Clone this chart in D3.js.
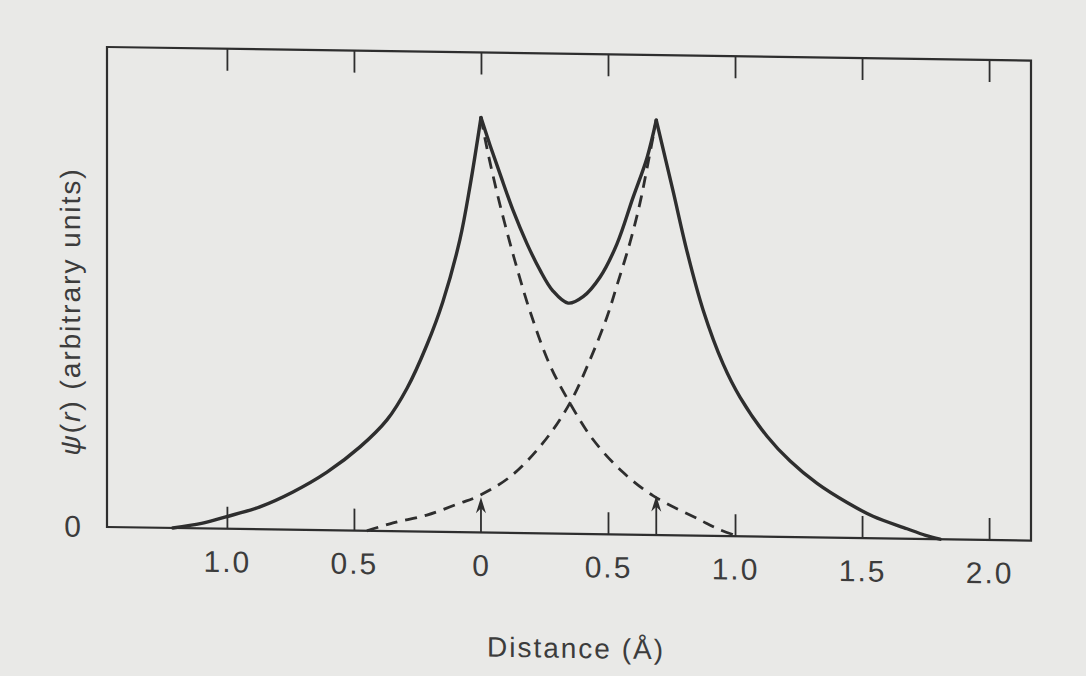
<!DOCTYPE html>
<html>
<head>
<meta charset="utf-8">
<script src="https://cdn.jsdelivr.net/npm/d3@7"></script>
<style>
  body { margin: 0; background: #e9e9e7; }
  svg { display: block; }
</style>
</head>
<body>
<div id="chart"></div>
<script>
// Nuclei positions (Å) and how high the arrows reach
const nuclei = [0, 0.69];
const arrowTops = [0.085, 0.095];

// Tick positions (distance measured from the left nucleus)
const xTicks = [-1.0, -0.5, 0, 0.5, 1.0, 1.5, 2.0];
const yTicks = [0];

// Solid curve, read in three pieces split at the two cusps: [r, psi]
const solidLeft = [
    [-1.213, 0.0], [-1.10, 0.012], [-1.008, 0.028], [-0.870, 0.054], [-0.740, 0.091],
    [-0.606, 0.140], [-0.476, 0.202], [-0.370, 0.268], [-0.291, 0.345], [-0.213, 0.450],
    [-0.150, 0.555], [-0.083, 0.705], [-0.043, 0.835], [0, 1.0]
];
const solidMid = [
    [0, 1.0], [0.035, 0.935], [0.075, 0.865], [0.126, 0.778], [0.181, 0.698],
    [0.232, 0.635], [0.283, 0.585], [0.343, 0.556], [0.402, 0.572], [0.469, 0.620],
    [0.535, 0.700], [0.598, 0.812], [0.654, 0.910], [0.69, 1.0]
];
const solidRight = [
    [0.69, 1.0], [0.756, 0.830], [0.811, 0.685], [0.874, 0.545], [0.953, 0.415],
    [1.02, 0.335], [1.126, 0.242], [1.217, 0.183], [1.323, 0.130], [1.441, 0.085],
    [1.543, 0.053], [1.677, 0.024], [1.75, 0.009], [1.807, 0.0]
];

// Dashed curves: each atom's own function
const dashA = [
    [0, 1.0], [0.024, 0.925], [0.063, 0.820], [0.094, 0.745], [0.134, 0.655],
    [0.193, 0.535], [0.272, 0.405], [0.350, 0.315], [0.441, 0.228], [0.559, 0.150],
    [0.677, 0.095], [0.862, 0.038], [0.94, 0.015], [1.012, 0.0]
];
const dashB = [
    [-0.449, 0.0], [-0.346, 0.020], [-0.213, 0.040], [-0.083, 0.070], [-0.016, 0.086],
    [0.114, 0.135], [0.244, 0.218], [0.350, 0.315], [0.429, 0.420], [0.496, 0.524],
    [0.535, 0.600], [0.587, 0.705], [0.626, 0.800], [0.654, 0.885], [0.69, 1.0]
];

const width = 1086;
const height = 676;
const margin = { top: 47, right: 55, bottom: 149, left: 107 };
const ink = "#2e2e2e";
const textInk = "#3c3c3c";
const font = "'Liberation Sans', Arial, sans-serif";

const svg = d3.select("#chart")
    .append("svg")
    .attr("width", width)
    .attr("height", height);

svg.append("rect")
    .attr("width", width)
    .attr("height", height)
    .attr("fill", "#e9e9e7");

// the printed page is slightly tilted in the photo
const g = svg.append("g")
    .attr("transform", `translate(${margin.left},${height - margin.bottom}) skewY(0.84) translate(${-margin.left},${-(height - margin.bottom)})`);

const x = d3.scaleLinear()
    .domain([-1.472, 2.165])
    .range([margin.left, width - margin.right]);

const y = d3.scaleLinear()
    .domain([0, 1.157])
    .range([height - margin.bottom, margin.top]);

// Frame
g.append("rect")
    .attr("x", x.range()[0])
    .attr("y", y.range()[1])
    .attr("width", x.range()[1] - x.range()[0])
    .attr("height", y.range()[0] - y.range()[1])
    .attr("fill", "none")
    .attr("stroke", ink)
    .attr("stroke-width", 2.2);

// Bottom axis: ticks point inward, labels are distances from each nucleus
const bottomAxis = g.append("g")
    .attr("transform", `translate(0,${y(0)})`)
    .call(d3.axisBottom(x)
        .tickValues(xTicks)
        .tickFormat(d => d === 0 ? "0" : d3.format(".1f")(Math.abs(d)))
        .tickSizeInner(-22)
        .tickSizeOuter(0)
        .tickPadding(22));
bottomAxis.select(".domain").remove();
bottomAxis.selectAll(".tick").filter(d => d === 0).select("line").remove();

// Top axis: ticks only
const topAxis = g.append("g")
    .attr("transform", `translate(0,${y.range()[1]})`)
    .call(d3.axisTop(x)
        .tickValues(xTicks)
        .tickFormat("")
        .tickSizeInner(-22)
        .tickSizeOuter(0));
topAxis.select(".domain").remove();

// Left axis: just the zero label
const leftAxis = g.append("g")
    .attr("transform", `translate(${x.range()[0]},0)`)
    .call(d3.axisLeft(y).tickValues(yTicks).tickFormat(d3.format("d")).tickSize(0).tickPadding(24));
leftAxis.select(".domain").remove();

g.selectAll(".tick line").attr("stroke", ink).attr("stroke-width", 1.8);
g.selectAll(".tick text")
    .attr("fill", textInk)
    .style("font-family", font)
    .style("font-size", "30px")
    .style("letter-spacing", "2px");

// Curves
const line = d3.line()
    .x(d => x(d[0]))
    .y(d => y(d[1]))
    .curve(d3.curveCatmullRom.alpha(0.5));

[dashA, dashB].forEach(series => {
    g.append("path")
        .datum(series)
        .attr("d", line)
        .attr("fill", "none")
        .attr("stroke", ink)
        .attr("stroke-width", 2.8)
        .attr("stroke-dasharray", "12,8");
});

[solidLeft, solidMid, solidRight].forEach(series => {
    g.append("path")
        .datum(series)
        .attr("d", line)
        .attr("fill", "none")
        .attr("stroke", ink)
        .attr("stroke-width", 3.4)
        .attr("stroke-linejoin", "miter")
        .attr("stroke-linecap", "round");
});

// Arrows marking the nuclei
nuclei.forEach((r, i) => {
    const ax = x(r);
    const tipY = y(arrowTops[i]);
    g.append("line")
        .attr("x1", ax).attr("x2", ax)
        .attr("y1", y(0)).attr("y2", tipY + 4)
        .attr("stroke", ink)
        .attr("stroke-width", 1.8);
    g.append("path")
        .attr("d", `M${ax - 5},${tipY + 16} L${ax},${tipY} L${ax + 5},${tipY + 16} L${ax},${tipY + 11} Z`)
        .attr("fill", ink);
});

// Axis titles
g.append("text")
    .attr("x", 576)
    .attr("y", 651)
    .attr("text-anchor", "middle")
    .attr("fill", textInk)
    .style("font-family", font)
    .style("font-size", "28px")
    .style("letter-spacing", "2px")
    .text("Distance (Å)");

const yLabel = g.append("text")
    .attr("transform", "translate(80,312) rotate(-90)")
    .attr("text-anchor", "middle")
    .attr("fill", textInk)
    .style("font-family", font)
    .style("font-size", "28px")
    .style("letter-spacing", "2px");
yLabel.append("tspan").attr("font-style", "italic").text("ψ");
yLabel.append("tspan").text("(");
yLabel.append("tspan").attr("font-style", "italic").text("r");
yLabel.append("tspan").text(") (arbitrary units)");
</script>
</body>
</html>
